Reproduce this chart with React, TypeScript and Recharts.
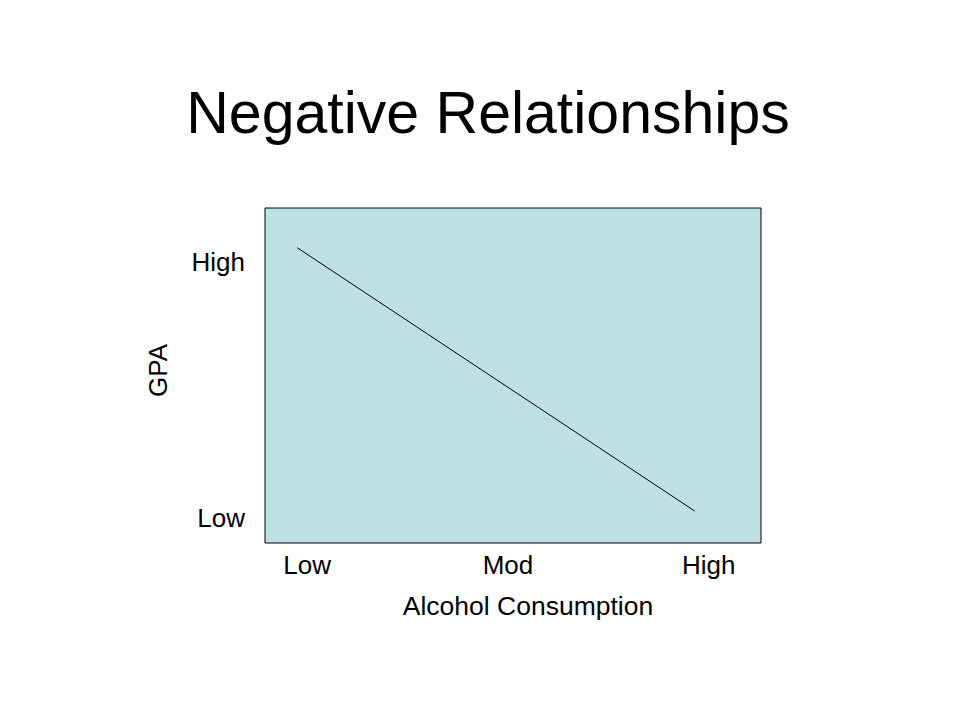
import React from "react";
import {
  LineChart, Line, XAxis, YAxis, ReferenceArea,
} from "recharts";

// Alcohol consumption (x) vs GPA (y), in level units: Low = 1, Mod = 2, High = 3
const LEVELS = ["Low", "Mod", "High"];
const X_TICKS = [1, 2, 3];
const Y_TICKS = [1, 3];
const X_DOMAIN = [0.79, 3.26];
const Y_DOMAIN = [0.8, 3.42];

const alcohol = [0.95, 2.93];
const gpa = [3.11, 1.05];

const data = alcohol.map((x, i) => ({ x, gpa: gpa[i] }));

const FONT = "'Liberation Sans', Arial, sans-serif";
const tickStyle = { fontSize: 26, fill: "#000", fontFamily: FONT };

function levelLabel(v: number): string {
  return LEVELS[Math.round(v) - 1] ?? "";
}

export default function App() {
  return (
    <div style={{ position: "absolute", left: 0, top: 0, width: 960, height: 720, background: "#fff" }}>
      <div
        style={{
          position: "absolute",
          top: 84,
          left: 8,
          width: 960,
          textAlign: "center",
          fontFamily: FONT,
          fontSize: 59,
          lineHeight: 1,
          color: "#000",
        }}
      >
        Negative Relationships
      </div>
      <LineChart
        width={960}
        height={720}
        data={data}
        margin={{ top: 208, right: 199, left: 140, bottom: 107 }}
      >
        <XAxis
          type="number"
          dataKey="x"
          domain={X_DOMAIN}
          ticks={X_TICKS}
          tickFormatter={levelLabel}
          allowDataOverflow
          axisLine={false}
          tickLine={false}
          tickSize={0}
          tickMargin={13}
          height={70}
          tick={tickStyle}
          label={{
            content: (props: any) => {
              const vb = props.viewBox;
              return (
                <text
                  x={vb.x + vb.width / 2 + 15}
                  y={vb.y + 72}
                  textAnchor="middle"
                  fontSize={26.5}
                  fontFamily={FONT}
                  fill="#000"
                >
                  Alcohol Consumption
                </text>
              );
            },
          }}
        />
        <YAxis
          type="number"
          domain={Y_DOMAIN}
          ticks={Y_TICKS}
          tickFormatter={levelLabel}
          allowDataOverflow
          axisLine={false}
          tickLine={false}
          tickSize={0}
          tickMargin={20}
          width={125}
          tick={tickStyle}
          label={{
            content: (props: any) => {
              const vb = props.viewBox;
              const cx = vb.x + 18;
              const cy = vb.y + vb.height / 2 - 5;
              return (
                <text
                  x={cx}
                  y={cy}
                  transform={`rotate(-90, ${cx}, ${cy})`}
                  textAnchor="middle"
                  dominantBaseline="central"
                  fontSize={26}
                  fontFamily={FONT}
                  fill="#000"
                >
                  GPA
                </text>
              );
            },
          }}
        />
        <ReferenceArea
          x1={X_DOMAIN[0]}
          x2={X_DOMAIN[1]}
          y1={Y_DOMAIN[0]}
          y2={Y_DOMAIN[1]}
          fill="#BDE0E4"
          fillOpacity={1}
          stroke="#000"
          strokeWidth={1}
        />
        <Line
          type="linear"
          dataKey="gpa"
          stroke="#000"
          strokeWidth={1}
          dot={false}
          isAnimationActive={false}
        />
      </LineChart>
    </div>
  );
}
